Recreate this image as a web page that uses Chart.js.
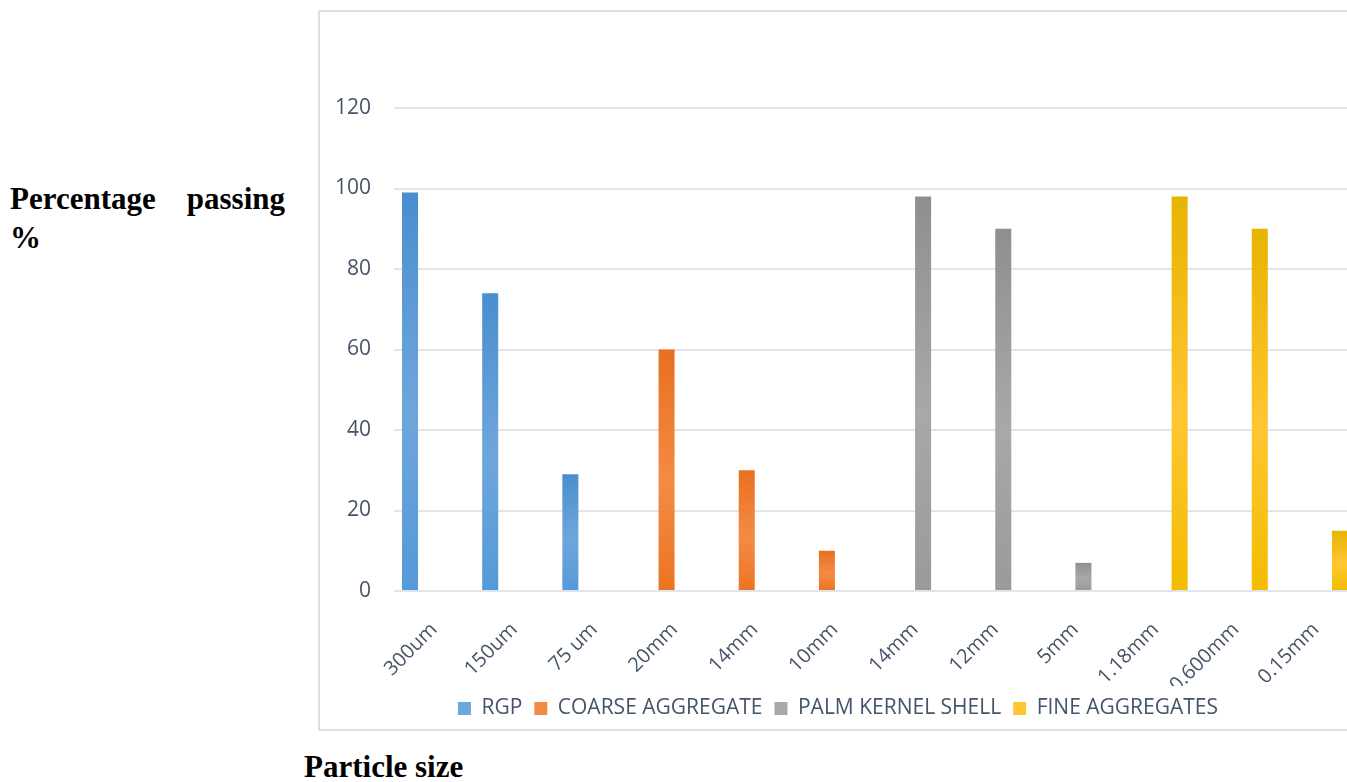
<!DOCTYPE html>
<html>
<head>
<meta charset="utf-8">
<script src="https://cdn.jsdelivr.net/npm/chart.js@4"></script>
<style>
  html, body { margin: 0; padding: 0; background: #fff; }
  body { width: 1347px; height: 782px; overflow: hidden; position: relative; }
  .ylabel {
    position: absolute; left: 10px; top: 179px; width: 275px;
    font: bold 31px "Liberation Serif", "Times New Roman", serif;
    line-height: 39px; text-align: justify; color: #000;
  }
  .xlabel {
    position: absolute; left: 304px; top: 749px;
    font: bold 31px "Liberation Serif", "Times New Roman", serif;
    color: #000; white-space: nowrap;
  }
  #box {
    position: absolute; left: 318px; top: 10px; width: 1048px; height: 717px;
    border: 2px solid #dde0e6; border-right: none;
  }
  #box canvas { display: block; }
</style>
</head>
<body>
<div class="ylabel">Percentage passing %</div>
<div class="xlabel">Particle size</div>
<div id="box"><canvas id="chart" width="1048" height="717"></canvas></div>
<script>
// particle sizes on the x axis
const categories = ["300um", "150um", "75 um", "20mm", "14mm", "10mm",
  "14mm", "12mm", "5mm", "1.18mm", "0.600mm", "0.15mm"];

// percentage passing, one series per material
const rgp = [99, 74, 29, null, null, null, null, null, null, null, null, null];
const coarse = [null, null, null, 60, 30, 10, null, null, null, null, null, null];
const palmKernel = [null, null, null, null, null, null, 98, 90, 7, null, null, null];
const fineAgg = [null, null, null, null, null, null, null, null, null, 98, 90, 15];

const seriesNames = ["RGP", "COARSE AGGREGATE", "PALM KERNEL SHELL", "FINE AGGREGATES"];
const yTicks = [0, 20, 40, 60, 80, 100, 120];

// top / middle / bottom colours for each series gradient
const palette = [
  ["#4a8ecf", "#6fa6db", "#5499d9"],
  ["#e8701f", "#f58a45", "#ec7422"],
  ["#8f8f8f", "#a8a8a8", "#9a9a9a"],
  ["#e6b400", "#fec632", "#f2bc00"],
];

const textColor = "#44546a";
const font = '"Open Sans", "Noto Sans", sans-serif';

function barFill(idx) {
  return (ctx) => {
    const chart = ctx.chart;
    const y = chart.scales && chart.scales.y;
    const c = palette[idx];
    if (!y || ctx.type !== "data" || ctx.parsed == null || ctx.parsed.y == null) return c[1];
    const top = y.getPixelForValue(ctx.parsed.y);
    const bottom = y.getPixelForValue(0);
    if (!isFinite(top) || !isFinite(bottom) || top === bottom) return c[1];
    const g = chart.ctx.createLinearGradient(0, top, 0, bottom);
    g.addColorStop(0, c[0]);
    g.addColorStop(0.55, c[1]);
    g.addColorStop(1, c[2]);
    return g;
  };
}

const seriesData = [rgp, coarse, palmKernel, fineAgg];
const datasets = seriesData.map((d, i) => ({
  label: seriesNames[i],
  data: d,
  backgroundColor: barFill(i),
  borderWidth: 0,
  categoryPercentage: 0.8,
  barPercentage: 1.0,
}));

new Chart(document.getElementById("chart"), {
  type: "bar",
  data: { labels: categories, datasets },
  options: {
    responsive: false,
    animation: false,
    layout: { padding: { top: 96, right: 12, bottom: 0, left: 0 } },
    plugins: {
      tooltip: { enabled: false },
      legend: {
        position: "bottom",
        labels: {
          color: textColor,
          font: { family: font, size: 21 },
          boxWidth: 13,
          boxHeight: 13,
          padding: 12,
          generateLabels: (chart) => seriesNames.map((name, i) => ({
            text: name,
            fillStyle: palette[i][1],
            strokeStyle: palette[i][1],
            lineWidth: 0,
            datasetIndex: i,
            fontColor: textColor,
          })),
        },
      },
    },
    scales: {
      x: {
        grid: { display: false },
        border: { display: false },
        ticks: {
          color: textColor,
          font: { family: font, size: 20 },
          minRotation: 45,
          maxRotation: 45,
          padding: 19,
        },
        afterFit: (scale) => { scale.height = 95; },
      },
      y: {
        min: 0,
        max: 120,
        afterBuildTicks: (scale) => { scale.ticks = yTicks.map((v) => ({ value: v })); },
        grid: { color: "#e1e4ea", lineWidth: 2, drawTicks: false },
        border: { display: false },
        ticks: {
          color: textColor,
          font: { family: font, size: 21 },
          padding: 23,
        },
        afterFit: (scale) => { scale.width = 74; },
      },
    },
  },
});
</script>
</body>
</html>
